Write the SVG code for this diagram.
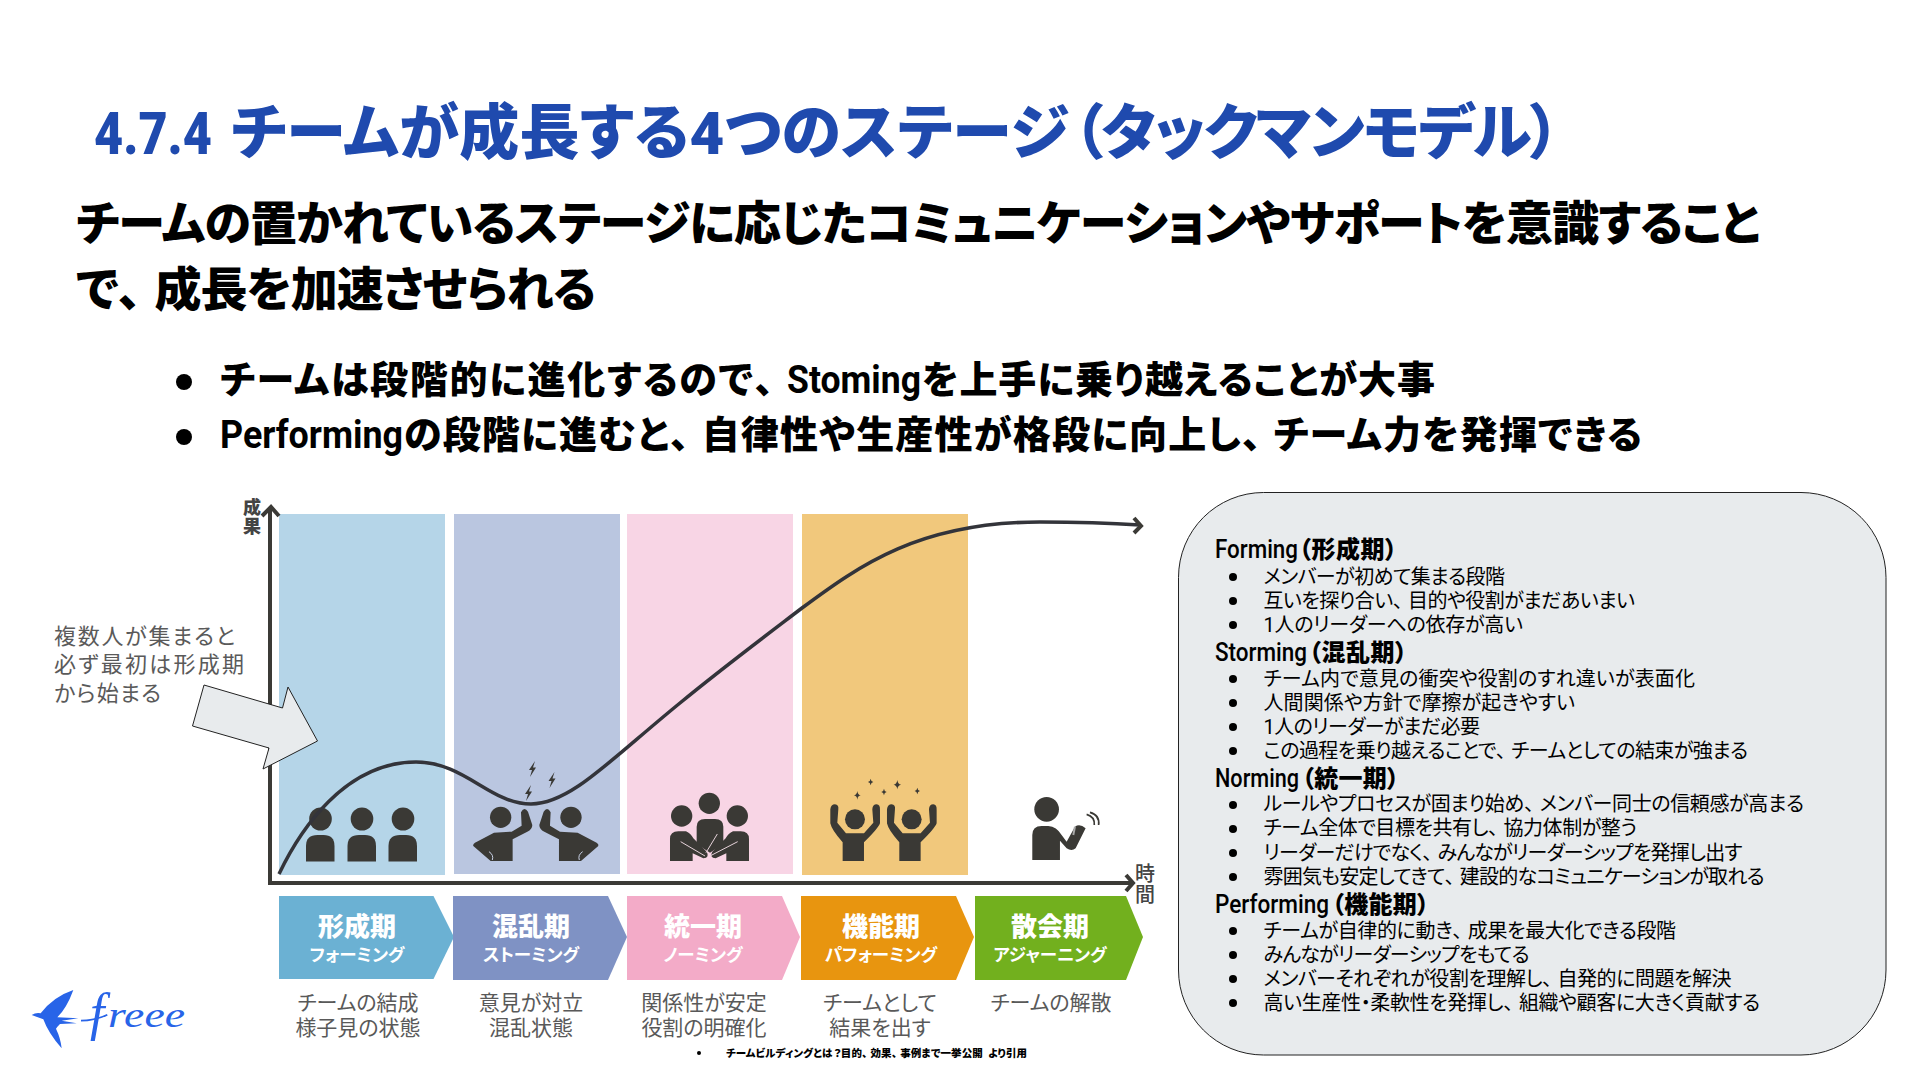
<svg xmlns="http://www.w3.org/2000/svg" width="1920" height="1080" viewBox="0 0 1920 1080">
<style>
text{font-family:"Roboto","Noto Sans CJK JP",sans-serif;font-feature-settings:"palt"}
.p{font-feature-settings:normal;letter-spacing:-.2em}
.t{font-weight:900;font-size:60px;fill:#1f4aae}
.h{font-weight:900;font-size:47px;fill:#000}
.b{font-weight:900;font-size:38px;fill:#000}
.la{font-weight:700;font-size:38px;fill:#000}
.bh{font-weight:900;font-size:24px;fill:#000}
.bl{font-weight:500;font-size:25px;fill:#000}
.i{font-weight:400;font-size:20px;fill:#000}
.l{font-weight:900;font-size:26px;fill:#fff;text-anchor:middle}
.s{font-weight:700;font-size:17.500px;fill:#fff;text-anchor:middle}
.d{font-weight:400;font-size:21px;fill:#595959;text-anchor:middle}
.c{font-weight:400;font-size:22px;fill:#5a5a5a}
.a{font-weight:900;font-size:18px;fill:#444;text-anchor:middle}
.a2{font-weight:500;font-size:20px;fill:#444;text-anchor:middle}
.ic{fill:#3a3935}
.ax{fill:none;stroke:#3b3a36;stroke-width:4}
</style>
<defs>
<path id="star" d="M0,-10 Q1,-1 8,0 Q1,1 0,10 Q-1,1 -8,0 Q-1,-1 0,-10Z"/>
<path id="bolt" d="M2.5,-8 L-3.5,1 H-0.5 L-2.5,8 L3.5,-1.5 H0.5Z"/>
<g id="person1"><ellipse cx="0" cy="-16" rx="11.3" ry="11.5"/><path d="M-14.500,26.500 V11 Q-14.500,0 -3,0 H3 Q14,0 14,11 V26.500Z"/></g>
<g id="cheer"><circle cx="585" cy="148" r="30"/><path d="M511,118 Q513,103 525,103 Q537,104 535,118 L532,158 L558,190 H612 L640,158 L637,118 Q638,103 650,103 Q661,104 660,120 L660,160 Q655,175 612,217 V273 H548 V217 Q515,180 511,160Z"/></g>
<g id="clash"><circle cx="632" cy="112" r="32"/><path d="M612,158 L665,155 L695,137 L693,97 Q703,78 714,95 L727,135 Q727,148 712,155 L668,178 V243 H602 L550,198 Q548,192 555,188Z"/><path d="M597,215 Q612,225 607,240" fill="none" stroke="#c9d2e6" stroke-width="3"/></g>
<g id="gather"><circle cx="65" cy="138" r="32"/><path d="M30,273 V207 Q30,184 55,184 H78 Q92,190 100,205 L140,245 Q150,262 130,265 L98,250 V273Z"/></g>
</defs>
<rect width="1920" height="1080" fill="#fff"/>
<g id="title">
<text class="t" x="94" y="154" textLength="118" lengthAdjust="spacingAndGlyphs">4.7.4</text>
<text class="t" x="231" y="154" textLength="838">チームが成長する4つのステージ</text>
<text class="t" x="1073" y="154" textLength="487">&#xFF08;タックマンモデル&#xFF09;</text>
</g>
<g id="lead">
<text class="h" x="76" y="240" textLength="1684">チームの置かれているステージに応じたコミュニケーションやサポートを意識すること</text>
<text class="h" x="76" y="306" textLength="520">で<tspan class="p">、</tspan>成長を加速させられる</text>
</g>
<g id="bullets">
<circle cx="184" cy="382" r="8"/>
<text class="b" x="220" y="393" textLength="565">チームは段階的に進化するので<tspan class="p">、</tspan></text>
<text class="la" x="787" y="393" textLength="134" lengthAdjust="spacingAndGlyphs">Stoming</text>
<text class="b" x="922" y="393" textLength="513">を上手に乗り越えることが大事</text>
<circle cx="184" cy="437" r="8"/>
<text class="la" x="220" y="448" textLength="183" lengthAdjust="spacingAndGlyphs">Performing</text>
<text class="b" x="404" y="448" textLength="1238">の段階に進むと<tspan class="p">、</tspan>自律性や生産性が格段に向上し<tspan class="p">、</tspan>チーム力を発揮できる</text>
</g>
<g id="panels">
<rect id="panel-forming" x="279" y="514" width="166" height="361" fill="#b5d5e8"/>
<rect id="panel-storming" x="454" y="514" width="166" height="360" fill="#bac6e0"/>
<rect id="panel-norming" x="627" y="514" width="166" height="360" fill="#f8d5e5"/>
<rect id="panel-performing" x="802" y="514" width="166" height="361" fill="#f1c87c"/>
</g>
<g id="icons" class="ic">
<g id="icon-forming"><use href="#person1" x="320.500" y="835"/><use href="#person1" x="362" y="835"/><use href="#person1" x="403" y="835"/></g>
<g id="icon-storming" transform="translate(290 780) scale(.3333)"><use href="#clash"/><use href="#clash" transform="translate(1475 0) scale(-1 1)"/></g>
<use href="#bolt" x="532.500" y="769"/><use href="#bolt" x="552" y="780"/><use href="#bolt" x="528.500" y="793"/>
<g id="icon-norming" transform="translate(660 770) scale(.3333)">
<circle cx="148" cy="100" r="32"/><path d="M110,222 V170 Q110,147 135,147 H165 Q190,147 190,170 V222 L150,248Z"/><use href="#gather"/><use href="#gather" transform="translate(297 0) scale(-1 1)"/>
<path d="M62,215 L135,258 M233,215 L150,258 M172,192 L138,248" fill="none" stroke="#e6d3da" stroke-width="3"/></g>
<g id="icon-performing" transform="translate(660 770) scale(.3333)"><use href="#cheer"/><use href="#cheer" x="170"/>
<use href="#star" transform="translate(632 36)"/><use href="#star" transform="translate(592 76) scale(1.300)"/><use href="#star" transform="translate(672 66)"/><use href="#star" transform="translate(712 44) scale(1.400)"/><use href="#star" transform="translate(772 63)"/></g>
<g id="icon-adjourning" transform="translate(660 770) scale(.3333)"><circle cx="1160" cy="118" r="37"/>
<path d="M1117,270 V195 Q1117,168 1145,168 H1165 Q1190,170 1205,195 L1220,215 L1245,170 Q1260,160 1277,175 L1247,235 Q1235,245 1220,235 L1200,212 V270Z"/>
<path d="M1280,133 Q1305,140 1303,165 M1290,127 Q1320,135 1316,165" fill="none" stroke="#3a3935" stroke-width="5"/><path d="M1245,170 L1240,195" stroke="#aaa" stroke-width="6"/></g>
</g>
<g id="connectors">
<path class="ax" d="M270,509 V883 H1132"/>
<path class="ax" d="M262,516 L271,507 L279,516 M1126,875 L1133,883 L1126,891"/>
<path d="M279,874 C300,830 345,762 416,762 C465,762 490,804 531,804 C570,804 610,760 680,703 C720,670 760,640 802,608 C860,565 920,522 1040,522 C1080,522 1110,523 1140,525" fill="none" stroke="#33343a" stroke-width="3.500"/>
<path class="ax" d="M1134,518 L1141,526 L1134,533"/>
</g>
<g id="axis-labels">
<text class="a" x="252" y="514">成</text><text class="a" x="252" y="533">果</text>
<text class="a2" x="1145" y="881">時</text><text class="a2" x="1145" y="902">間</text>
</g>
<g id="callout">
<text class="c" x="54" y="644" textLength="181">複数人が集まると</text>
<text class="c" x="54" y="672" textLength="190">必ず最初は形成期</text>
<text class="c" x="54" y="701" textLength="107">から始まる</text>
<polygon points="204,685 282.500,708 288,687 317.500,741 263,769 269,748 192.500,726" fill="#e8ebed" stroke="#222" stroke-width="1"/>
</g>
<g id="stage-forming"><polygon points="279,896 433.500,896 454,937 433.500,979 279,979" fill="#6bb1d3"/><text class="l" x="357" y="936">形成期</text><text class="s" x="357" y="961">フォーミング</text><text class="d" x="358" y="1010">チームの結成</text><text class="d" x="358" y="1035">様子見の状態</text></g>
<g id="stage-storming"><polygon points="453,896 608,896 627,937 608,980 453,980" fill="#7f92c4"/><text class="l" x="531" y="936">混乱期</text><text class="s" x="531" y="961">ストーミング</text><text class="d" x="531" y="1010">意見が対立</text><text class="d" x="531" y="1035">混乱状態</text></g>
<g id="stage-norming"><polygon points="627,896 782,896 800,937 782,980 627,980" fill="#f3abc8"/><text class="l" x="703" y="936">統一期</text><text class="s" x="703" y="961">ノーミング</text><text class="d" x="704" y="1010">関係性が安定</text><text class="d" x="704" y="1035">役割の明確化</text></g>
<g id="stage-performing"><polygon points="801,896 956,896 974,937 956,980 801,980" fill="#e8950f"/><text class="l" x="881" y="936">機能期</text><text class="s" x="881" y="961">パフォーミング</text><text class="d" x="880" y="1010">チームとして</text><text class="d" x="880" y="1035">結果を出す</text></g>
<g id="stage-adjourning"><polygon points="975,896 1126,896 1143,937 1126,980 975,980" fill="#72b01e"/><text class="l" x="1050" y="936">散会期</text><text class="s" x="1050" y="961">アジャーニング</text><text class="d" x="1051" y="1010">チームの解散</text></g>
<g id="source"><circle cx="699" cy="1053" r="2"/><text x="726" y="1057" font-size="10.500" font-weight="900" textLength="301" xml:space="preserve">チームビルディングとは<tspan class="p">&#xFF1F;</tspan>目的<tspan class="p">、</tspan>効果<tspan class="p">、</tspan>事例まで一挙公開  より引用</text></g>
<g id="logo" fill="#2864e8">
<g transform="translate(20 980) scale(.3333)">
<path d="M35,105 Q48,97 62,100 Q100,50 160,30 Q140,85 112,112 L175,115 L125,122 L170,130 L120,132 Q112,140 108,146 Q122,175 125,205 Q85,160 70,118Z"/>
<path d="M183,122 Q225,122 262,104" fill="none" stroke="#2864e8" stroke-width="5"/>
</g>
<text y="1030" font-style="italic" style="font-family:'Liberation Serif',serif"><tspan x="90" font-size="52">f</tspan><tspan x="108" y="1027" font-size="36" textLength="77" lengthAdjust="spacingAndGlyphs">reee</tspan></text>
</g>
<g id="summary">
<rect x="1178.500" y="492.500" width="707.500" height="562.500" rx="85" ry="85" fill="#e8ebed" stroke="#222" stroke-width="1"/>
<text class="bl" x="1215" y="558" textLength="83" lengthAdjust="spacingAndGlyphs">Forming</text><text class="bh" x="1299" y="558" textLength="98">&#xFF08;形成期&#xFF09;</text>
<g id="forming-items"><circle cx="1233" cy="577" r="4"/><text class="i" x="1263.500" y="584" textLength="241.500">メンバーが初めて集まる段階</text>
<circle cx="1233" cy="601" r="4"/><text class="i" x="1263.500" y="608" textLength="371.500">互いを探り合い<tspan class="p">、</tspan>目的や役割がまだあいまい</text>
<circle cx="1233" cy="625" r="4"/><text class="i" x="1263.500" y="632" textLength="259.500">1人のリーダーへの依存が高い</text></g>
<text class="bl" x="1215" y="661" textLength="92" lengthAdjust="spacingAndGlyphs">Storming</text><text class="bh" x="1309" y="661" textLength="98">&#xFF08;混乱期&#xFF09;</text>
<g id="storming-items"><circle cx="1233" cy="679" r="4"/><text class="i" x="1263.500" y="686" textLength="431.500">チーム内で意見の衝突や役割のすれ違いが表面化</text>
<circle cx="1233" cy="703" r="4"/><text class="i" x="1263.500" y="710" textLength="311.500">人間関係や方針で摩擦が起きやすい</text>
<circle cx="1233" cy="727" r="4"/><text class="i" x="1263.500" y="734" textLength="216.500">1人のリーダーがまだ必要</text>
<circle cx="1233" cy="751" r="4"/><text class="i" x="1263.500" y="758" textLength="484.500">この過程を乗り越えることで<tspan class="p">、</tspan>チームとしての結束が強まる</text></g>
<text class="bl" x="1215" y="787" textLength="84" lengthAdjust="spacingAndGlyphs">Norming</text><text class="bh" x="1302" y="787" textLength="97">&#xFF08;統一期&#xFF09;</text>
<g id="norming-items"><circle cx="1233" cy="805" r="4"/><text class="i" x="1263.500" y="811" textLength="540.500">ルールやプロセスが固まり始め<tspan class="p">、</tspan>メンバー同士の信頼感が高まる</text>
<circle cx="1233" cy="829" r="4"/><text class="i" x="1263.500" y="835" textLength="373.500">チーム全体で目標を共有し<tspan class="p">、</tspan>協力体制が整う</text>
<circle cx="1233" cy="853" r="4"/><text class="i" x="1263.500" y="860" textLength="479">リーダーだけでなく<tspan class="p">、</tspan>みんながリーダーシップを発揮し出す</text>
<circle cx="1233" cy="877" r="4"/><text class="i" x="1263.500" y="884" textLength="501">雰囲気も安定してきて<tspan class="p">、</tspan>建設的なコミュニケーションが取れる</text></g>
<text class="bl" x="1215" y="913" textLength="114" lengthAdjust="spacingAndGlyphs">Performing</text><text class="bh" x="1332" y="913" textLength="97">&#xFF08;機能期&#xFF09;</text>
<g id="performing-items"><circle cx="1233" cy="931" r="4"/><text class="i" x="1263.500" y="938" textLength="412.500">チームが自律的に動き<tspan class="p">、</tspan>成果を最大化できる段階</text>
<circle cx="1233" cy="955" r="4"/><text class="i" x="1263.500" y="962" textLength="266">みんながリーダーシップをもてる</text>
<circle cx="1233" cy="979" r="4"/><text class="i" x="1263.500" y="986" textLength="468">メンバーそれぞれが役割を理解し<tspan class="p">、</tspan>自発的に問題を解決</text>
<circle cx="1233" cy="1003" r="4"/><text class="i" x="1263.500" y="1010" textLength="496.500">高い生産性・柔軟性を発揮し<tspan class="p">、</tspan>組織や顧客に大きく貢献する</text></g>
</g>
</svg>
